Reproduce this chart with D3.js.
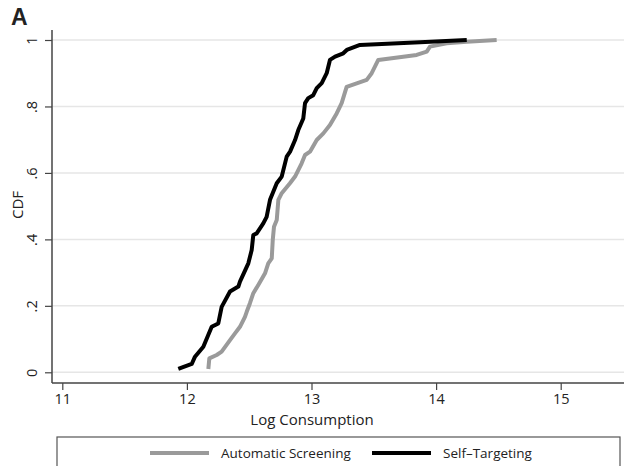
<!DOCTYPE html>
<html>
<head>
<meta charset="utf-8">
<script src="https://cdn.jsdelivr.net/npm/d3@7"></script>
<style>
  html, body { margin: 0; padding: 0; background: #fff; }
  svg { display: block; }
  text { font-family: "Open Sans", "Noto Sans", sans-serif; fill: #222; }
</style>
</head>
<body>
<svg id="chart" width="624" height="466"></svg>
<script>
// ---- Data ----
const selfX = [11.931, 12.039, 12.065, 12.132, 12.199, 12.252, 12.279, 12.346, 12.413, 12.426,
  12.493, 12.520, 12.533, 12.560, 12.613, 12.640, 12.667, 12.721, 12.761, 12.801,
  12.828, 12.868, 12.894, 12.934, 12.948, 12.974, 13.014, 13.042, 13.082, 13.122,
  13.148, 13.189, 13.255, 13.283, 13.389, 13.871, 14.246];
const selfY = [0.010, 0.025, 0.047, 0.077, 0.137, 0.147, 0.197, 0.243, 0.258, 0.273,
  0.328, 0.368, 0.413, 0.418, 0.448, 0.468, 0.519, 0.569, 0.589, 0.649,
  0.664, 0.699, 0.729, 0.764, 0.810, 0.825, 0.834, 0.855, 0.870, 0.900,
  0.940, 0.950, 0.960, 0.970, 0.985, 0.993, 1.000];

const autoX = [12.172, 12.180, 12.239, 12.279, 12.346, 12.386, 12.426, 12.466, 12.480, 12.506,
  12.533, 12.573, 12.627, 12.653, 12.681, 12.689, 12.699, 12.721, 12.734, 12.761,
  12.827, 12.868, 12.921, 12.948, 12.988, 13.042, 13.095, 13.148, 13.202, 13.242,
  13.282, 13.443, 13.483, 13.536, 13.844, 13.925, 13.951, 14.085, 14.246, 14.486];
const autoY = [0.010, 0.042, 0.052, 0.062, 0.097, 0.117, 0.137, 0.167, 0.182, 0.208,
  0.238, 0.263, 0.298, 0.328, 0.343, 0.398, 0.438, 0.458, 0.519, 0.539,
  0.569, 0.589, 0.629, 0.654, 0.664, 0.699, 0.719, 0.744, 0.779, 0.810,
  0.859, 0.880, 0.900, 0.940, 0.955, 0.965, 0.980, 0.990, 0.995, 1.000];

const xTicks = [11, 12, 13, 14, 15];
const xTickLabels = ["11", "12", "13", "14", "15"];
const yTicks = [0, 0.2, 0.4, 0.6, 0.8, 1];
const yTickLabels = ["0", ".2", ".4", ".6", ".8", "1"];
const seriesNames = ["Automatic Screening", "Self\u2013Targeting"];
const seriesColors = ["#9a9a9a", "#000000"];

// ---- Layout ----
const svg = d3.select("#chart");
const plotLeft = 52, plotRight = 624, plotTop = 30, plotBottom = 383;
const x = d3.scaleLinear().domain([11, 15]).range([62.3, 560.7]);
const y = d3.scaleLinear().domain([0, 1]).range([372.3, 40]);

// Gridlines
svg.append("g").selectAll("line").data(yTicks).join("line")
  .attr("x1", plotLeft).attr("x2", plotRight)
  .attr("y1", d => y(d)).attr("y2", d => y(d))
  .attr("stroke", "#e6e6e6").attr("stroke-width", 1.5);

// Axes
const xAxis = d3.axisBottom(x).tickValues(xTicks)
  .tickFormat((d, i) => xTickLabels[i]).tickSize(7).tickSizeOuter(0);
const gx = svg.append("g").attr("transform", `translate(0,${plotBottom})`).call(xAxis);
gx.select(".domain").attr("d", `M${plotLeft},0H${plotRight}`).attr("stroke", "#444").attr("stroke-width", 1.5);
gx.selectAll(".tick line").attr("stroke", "#444").attr("stroke-width", 1.2);
gx.selectAll(".tick text").attr("dy", 0).attr("y", 20.5)
  .style("font-size", "14.5px").style("font-family", "'Open Sans', sans-serif").attr("fill", "#222");

const yAxis = d3.axisLeft(y).tickValues(yTicks)
  .tickFormat((d, i) => yTickLabels[i]).tickSize(7).tickSizeOuter(0);
const gy = svg.append("g").attr("transform", `translate(${plotLeft},0)`).call(yAxis);
gy.select(".domain").attr("d", `M0,${plotTop}V${plotBottom}`).attr("stroke", "#444").attr("stroke-width", 1.5);
gy.selectAll(".tick line").attr("stroke", "#444").attr("stroke-width", 1.2);
gy.selectAll(".tick text")
  .attr("x", null).attr("dy", null)
  .attr("transform", "translate(-15,0) rotate(-90)")
  .attr("text-anchor", "middle").attr("y", 0)
  .style("font-size", "14.5px").style("font-family", "'Open Sans', sans-serif").attr("fill", "#222");

// Lines
const line = d3.line().x(d => x(d[0])).y(d => y(d[1]));
const series = [
  { name: seriesNames[0], color: seriesColors[0], pts: d3.zip(autoX, autoY) },
  { name: seriesNames[1], color: seriesColors[1], pts: d3.zip(selfX, selfY) }
];
svg.append("g").selectAll("path").data(series).join("path")
  .attr("d", d => line(d.pts))
  .attr("fill", "none").attr("stroke", d => d.color)
  .attr("stroke-width", 4).attr("stroke-linejoin", "round");

// Axis titles
svg.append("text").attr("x", 312).attr("y", 424.5).attr("text-anchor", "middle")
  .style("font-size", "15px").text("Log Consumption");
svg.append("text").attr("transform", "translate(23,205) rotate(-90)").attr("text-anchor", "middle")
  .style("font-size", "15px").text("CDF");

// Panel label
svg.append("text").attr("x", 11).attr("y", 25)
  .style("font-family", "'Liberation Sans', Arial, sans-serif")
  .style("font-weight", "bold").style("font-size", "23px").attr("fill", "#111").text("A");

// Legend
svg.append("rect").attr("x", 57).attr("y", 437).attr("width", 563).attr("height", 40)
  .attr("fill", "none").attr("stroke", "#555").attr("stroke-width", 1.2);
const legendX = [150, 372];
const lg = svg.append("g").selectAll("g").data(series).join("g")
  .attr("transform", (d, i) => `translate(${legendX[i]},453)`);
lg.append("line").attr("x1", 0).attr("x2", 59).attr("y1", 0).attr("y2", 0)
  .attr("stroke", d => d.color).attr("stroke-width", 4);
lg.append("text").attr("x", 71).attr("y", 4.5).style("font-size", "13.5px").text(d => d.name);
</script>
</body>
</html>
